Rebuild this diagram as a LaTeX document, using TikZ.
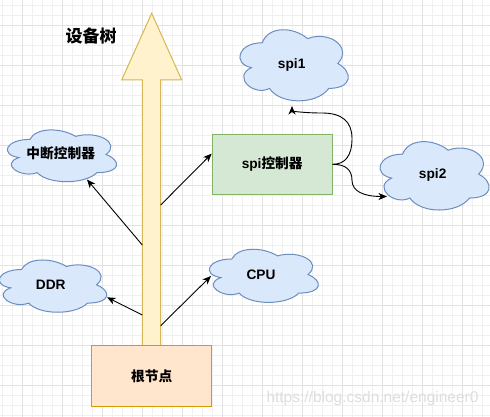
\documentclass[tikz,border=0pt]{standalone}
\usepackage{fontspec}
\setmainfont{Liberation Sans}
\newfontfamily\cjk{Noto Sans CJK SC}
\usetikzlibrary{arrows.meta}
\definecolor{gridminor}{HTML}{F0F0F0}
\definecolor{gridmajor}{HTML}{E2E2E2}
\definecolor{yelfill}{HTML}{FFF2CC}
\definecolor{yeldraw}{HTML}{D6B656}
\definecolor{orfill}{HTML}{FFE6CC}
\definecolor{ordraw}{HTML}{D79B00}
\definecolor{grfill}{HTML}{D5E8D4}
\definecolor{grdraw}{HTML}{82B366}
\definecolor{blfill}{HTML}{DAE8FC}
\definecolor{bldraw}{HTML}{6C8EBF}
\tikzset{
  minorgrid/.style={draw=gridminor, line width=0.8pt},
  majorgrid/.style={draw=gridmajor, line width=0.9pt},
  cloudsty/.style={fill=blfill, draw=bldraw, line width=1pt},
  txt/.style={inner sep=0pt, text height=0.72em, text depth=0pt, font=\bfseries\fontsize{13.7pt}{16pt}\selectfont},
  boxsty/.style={rectangle, minimum width=120pt, minimum height=60pt, line width=1pt, font=\bfseries\fontsize{13.7pt}{16pt}\selectfont},
  conn/.style={draw=black, line width=0.9pt, -{Stealth[length=8.5pt,width=7pt,inset=2.5pt]}},
}
\newcommand\mxcloud[4]{%
 \path[cloudsty] ({#1+0.25*#3},{#2+0.25*#4})
 .. controls ({#1+0.05*#3},{#2+0.25*#4}) and ({#1},{#2+0.5*#4}) .. ({#1+0.16*#3},{#2+0.55*#4})
 .. controls ({#1},{#2+0.66*#4}) and ({#1+0.18*#3},{#2+0.9*#4}) .. ({#1+0.31*#3},{#2+0.8*#4})
 .. controls ({#1+0.4*#3},{#2+#4}) and ({#1+0.7*#3},{#2+#4}) .. ({#1+0.8*#3},{#2+0.8*#4})
 .. controls ({#1+#3},{#2+0.8*#4}) and ({#1+#3},{#2+0.6*#4}) .. ({#1+0.875*#3},{#2+0.5*#4})
 .. controls ({#1+#3},{#2+0.3*#4}) and ({#1+0.8*#3},{#2+0.1*#4}) .. ({#1+0.625*#3},{#2+0.2*#4})
 .. controls ({#1+0.5*#3},{#2+0.05*#4}) and ({#1+0.3*#3},{#2+0.05*#4}) .. ({#1+0.25*#3},{#2+0.25*#4}) -- cycle;}
\begin{document}
\begin{tikzpicture}[x=1pt,y=-1pt]
\useasboundingbox (0,0) rectangle (490,417);
\fill[white] (0,0) rectangle (490,417);
% grid
\foreach \gx in {2.7,12.7,...,489} \draw[minorgrid] (\gx,0) -- (\gx,417);
\foreach \gy in {5,15,...,416} \draw[minorgrid] (0,\gy) -- (490,\gy);
\foreach \gx in {22.7,62.7,...,489} \draw[majorgrid] (\gx,0) -- (\gx,417);
\foreach \gy in {25,65,...,416} \draw[majorgrid] (0,\gy) -- (490,\gy);
% watermark
\node[font=\fontsize{15.5pt}{18pt}\selectfont, text=black!13, inner sep=0pt] (wm) at (372.5,398) {https://blog.csdn.net/engineer0};
% big arrow
\path[fill=yelfill, draw=yeldraw, line width=1pt] (151.7,13.3) -- (181.7,80) -- (160.7,80) -- (160.7,346) -- (142.3,346) -- (142.3,80) -- (121.7,80) -- cycle;
\coordinate (a1) at (142.3,245);
\coordinate (a2) at (160.7,205);
\coordinate (a3) at (142.3,315);
\coordinate (a4) at (160.7,325.7);
% title
\node[txt, font=\bfseries\cjk\fontsize{17pt}{20pt}\selectfont] (title) at (91,39) {设备树};
% boxes
\node[boxsty, fill=orfill, draw=ordraw, minimum height=60.3pt] (root) at (151.7,375.85) {\cjk 根节点};
\node[boxsty, fill=grfill, draw=grdraw] (spictl) at (272.2,164.3) {spi{\cjk 控制器}};
% clouds
\mxcloud{-0.6}{124.3}{122}{60.4}
\node[txt] (intc) at (60.7,155) {\cjk 中断控制器};
\mxcloud{232}{22}{121}{83}
\node[txt] (spi1) at (291.7,65) {spi1};
\mxcloud{372.1}{134.2}{121.8}{79.8}
\node[txt] (spi2) at (432.7,175) {spi2};
\mxcloud{-8.5}{254.3}{120}{61}
\node[txt] (ddr) at (50.7,286) {DDR};
\mxcloud{201.4}{243.5}{121.8}{62}
\node[txt] (cpu) at (261,276) {CPU};
% connector end points on clouds
\coordinate (intcin) at (87,179.5);
\coordinate (ddrin) at (107,297.3);
\coordinate (cpuin) at (211,276);
\coordinate (spi1in) at (292,106);
\coordinate (spi2in) at (387,196.5);
% connectors
\draw[conn] (a1) -- (intcin);
\draw[conn] (a2) -- (spictl.170.5);
\draw[conn] (a3) -- (ddrin);
\draw[conn] (a4) -- (cpuin);
\draw[conn] (spictl.east) .. controls (345.3,164.3) and (352,155.5) .. (352,138.5)
  .. controls (352,121.5) and (342,113) .. (322,113)
  .. controls (302,113) and (292,110.7) .. (spi1in);
\draw[conn] (spictl.east) .. controls (345.3,164.3) and (352,169.5) .. (352,180.4)
  .. controls (352,191.2) and (363.7,196.5) .. (spi2in);
\end{tikzpicture}
\end{document}
